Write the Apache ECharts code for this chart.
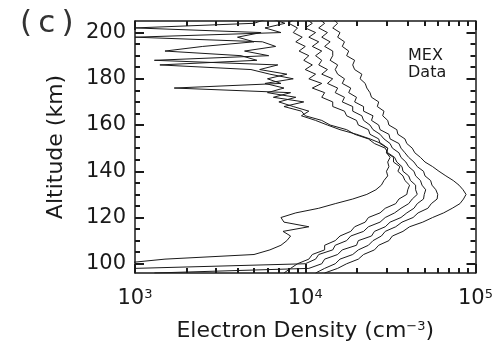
<!DOCTYPE html>
<html>
<head>
<meta charset="utf-8">
<script src="https://cdn.jsdelivr.net/npm/echarts@6/dist/echarts.min.js"></script>
<style>
html,body{margin:0;padding:0;background:#fff;}
#main{width:496px;height:347px;}
</style>
</head>
<body>
<div id="main"></div>
<script>
// altitude grid (km) shared by all profiles
var altitude = [96,98,100,102,104,106,108,110,112,114,116,118,120,122,124,126,128,130,132,134,
	136,138,140,142,144,146,148,150,152,154,156,158,160,162,164,166,168,170,172,174,
	176,178,180,182,184,186,188,190,192,194,196,198,200,202,204,206];

// electron density profiles (cm^-3)
var profileA = [13000,15500,17500,20500,22000,25500,27000,31000,32500,37500,41000,49000,56000,65000,73000,81000,85000,88000,84500,80000,
	74000,67000,61000,56000,50500,47500,44000,42500,39500,38500,35000,34500,31000,30500,28500,29000,26500,27000,24500,24000,
	23000,22500,21000,21500,19500,19000,19500,17500,18000,16500,17000,15500,16000,14500,15500,14500];
var profileB = [11500,13000,15000,16000,19000,20500,23500,25000,28000,29500,34000,37000,43000,46000,52500,55000,59500,60000,58500,55500,
	54500,50500,49500,45500,43500,40500,38500,36500,35500,31500,31000,27500,27000,24500,25000,22000,22000,19500,20000,18000,
	18500,16500,17000,15500,15000,15500,14000,14500,14500,13000,14000,12500,13500,12000,13000,12000];
var profileC = [1300,10500,12500,13000,15500,16500,20000,20500,24500,25500,29500,31500,36500,39500,43500,45500,49500,50000,51000,48500,
	47500,44500,43500,40500,39000,36500,35500,32500,31500,29000,27500,25000,24000,22000,21500,19000,19000,16500,17000,15000,
	15500,13500,14500,12500,13500,12000,12500,11500,12500,11000,12000,10500,11500,10000,11000,10000];
var profileD = [900,1000,10000,11500,12000,14500,15000,17500,18500,22000,23500,27500,29500,33500,36500,40500,42500,45500,44500,44500,
	41500,40500,37500,37000,34500,33500,30500,29500,25500,23500,19500,17500,14000,12500,10000,9500,7500,9800,6500,8200,
	1700,7200,6000,7800,5400,6900,1300,6100,4400,6700,5600,1000,7200,5800,7600,6300];
var profileE = [7500,8200,9000,10500,11000,13000,13000,15000,16000,18500,19500,22500,23500,27500,29500,34000,35500,39500,40000,41000,
	38500,37500,35000,36000,33000,33000,30000,30500,27500,27000,24000,23500,20500,20000,17500,17000,14500,14500,12500,13000,
	11000,12500,10500,11500,10000,11000,9800,10500,9200,10000,8800,9600,8500,9000,8000,8600];
var profileF = [null,null,800,1500,5000,6200,7200,7800,8200,7400,10500,7500,7200,8800,12000,15000,19000,23000,26000,28000,
	29000,30500,30000,31000,30500,31500,30000,30500,28000,24000,20000,16000,13500,11500,9500,10500,8500,7000,8800,6000,
	7500,5800,8500,6200,4800,1400,5200,4200,1500,2500,5000,4000,5500,1000,5000,6000];

// ticks
var yMajor = [100,120,140,160,180,200];
var yMinor = [105,110,115,125,130,135,145,150,155,165,170,175,185,190,195];
var xMajor = [1000,10000,100000];
var xMinor = [2000,3000,4000,5000,6000,7000,8000,9000,20000,30000,40000,50000,60000,70000,80000,90000];

var font = 'DejaVu Sans';
var ink = '#1a1a1a';

var profiles = [profileA,profileB,profileC,profileD,profileE,profileF];
var series = [];
for(var k=0;k<profiles.length;k++){
	var pts = [];
	for(var i=0;i<altitude.length;i++){
		if(profiles[k][i] != null) pts.push([profiles[k][i], altitude[i]]);
	}
	series.push({
		type:'line',
		data:pts,
		xAxisIndex:0,
		yAxisIndex:0,
		showSymbol:false,
		clip:true,
		lineStyle:{color:ink,width:1},
		silent:true
	});
}

// tick-only axes, the x ones live in log10 space
function logList(arr){ return arr.map(function(v){return Math.log10(v);}); }

function xTickAxis(pos, values, len, showLine){
	return {
		type:'value', position:pos, min:3, max:5,
		axisLine:{show:showLine, onZero:false, lineStyle:{color:ink,width:1.5}},
		axisTick:{show:true, inside:true, length:len, customValues:logList(values), lineStyle:{color:ink,width:2}},
		axisLabel:{show:false},
		splitLine:{show:false}
	};
}
function yTickAxis(pos, values, len, showLine){
	return {
		type:'value', position:pos, min:96, max:205,
		axisLine:{show:showLine, onZero:false, lineStyle:{color:ink,width:1.5}},
		axisTick:{show:true, inside:true, length:len, customValues:values, lineStyle:{color:ink,width:2}},
		axisLabel:{show:false},
		splitLine:{show:false}
	};
}

var chart = echarts.init(document.getElementById('main'));
var option = {
	animation:false,
	backgroundColor:'#fff',
	title:{
		text:'(\u2009c\u2009)',
		left:15, top:3,
		textStyle:{fontFamily:font,fontSize:31,fontWeight:'normal',color:'#333'}
	},
	graphic:[{
		type:'text', left:408, top:47,
		style:{text:'MEX\nData', fontFamily:font, fontSize:16, lineHeight:17, fill:ink}
	}],
	grid:{left:135,right:20,top:21,bottom:74},
	xAxis:[
		{
			type:'log', logBase:10, min:1000, max:100000, position:'bottom',
			name:'Electron Density (cm{s|\u22123})',
			nameLocation:'middle', nameGap:47,
			nameTextStyle:{fontFamily:font,fontSize:22,color:ink,
				rich:{s:{fontFamily:font,fontSize:13,color:ink,verticalAlign:'top',padding:[0,0,8,0]}}},
			axisLine:{show:true,onZero:false,lineStyle:{color:ink,width:1.5}},
			axisTick:{show:true,inside:true,length:9,lineStyle:{color:ink,width:2}},
			axisLabel:{
				margin:15,
				formatter:function(v){ return '{b|10}{s|' + Math.round(Math.log10(v)) + '}'; },
				rich:{
					b:{fontFamily:font,fontSize:21,color:ink},
					s:{fontFamily:font,fontSize:13,color:ink,verticalAlign:'top'}
				}
			},
			splitLine:{show:false},
			minorTick:{show:false}
		},
		xTickAxis('bottom', xMinor, 5, false),
		xTickAxis('top', xMajor, 9, true),
		xTickAxis('top', xMinor, 5, false)
	],
	yAxis:[
		{
			type:'value', min:96, max:205, position:'left',
			name:'Altitude (km)', nameLocation:'middle', nameGap:68,
			nameTextStyle:{fontFamily:font,fontSize:22,color:ink},
			axisLine:{show:true,onZero:false,lineStyle:{color:ink,width:1.5}},
			axisTick:{show:true,inside:true,length:9,customValues:yMajor,lineStyle:{color:ink,width:2}},
			axisLabel:{customValues:yMajor,margin:9,fontFamily:font,fontSize:21,color:ink},
			splitLine:{show:false}
		},
		yTickAxis('left', yMinor, 5, false),
		yTickAxis('right', yMajor, 9, true),
		yTickAxis('right', yMinor, 5, false)
	],
	series:series
};
chart.setOption(option);
</script>
</body>
</html>
